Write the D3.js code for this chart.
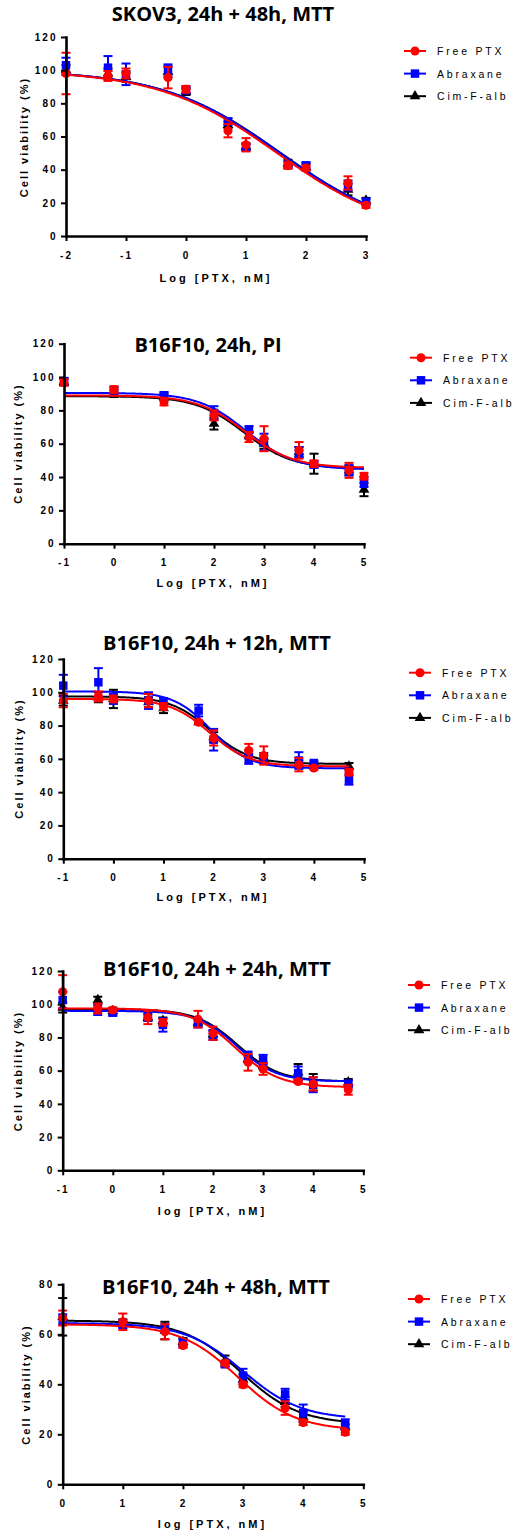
<!DOCTYPE html>
<html>
<head>
<meta charset="utf-8">
<script src="https://cdn.jsdelivr.net/npm/d3@7"></script>
<style>
  body { margin: 0; background: #fff; }
  svg { display: block; }
</style>
</head>
<body>
<div id="chart"></div>
<script>
"use strict";

// ---- data (x = log dose, y = cell viability %, err = SD) ----

const seriesNames = ["Free PTX", "Abraxane", "Cim-F-alb"];

// SKOV3, 24h + 48h, MTT
const skovDose = [-2, -1.3, -1, -0.3, 0, 0.7, 1, 1.7, 2, 2.7, 3];
const skovFree = [98, 96.5, 98, 95.5, 88.5, 63.5, 55, 42.5, 41, 32, 18.5];
const skovFreeErr = [12.5, 3, 3, 6.5, 2, 4, 4, 2, 1.5, 4, 1.5];
const skovAbrax = [103, 101.5, 97.5, 100.5, 88, 69, 53.5, 43, 42.5, 30.5, 20.5];
const skovAbraxErr = [4.5, 7, 6.5, 3, 2, 2, 2, 2, 2, 3, 2];
const skovCim = [100, 98, 96, 99, 87, 67, 54, 44, 41.5, 28, 21.5];
const skovCimErr = [3, 3, 3, 3, 2, 2, 2, 2, 2, 3.5, 1.5];

// B16F10, 24h, PI
const pi24Dose = [-1, 0, 1, 2, 2.7, 3, 3.7, 4, 4.7, 5];
const pi24Free = [96.8, 92.5, 85, 77, 64, 63, 56, 48, 44, 40.5];
const pi24FreeErr = [2, 2, 2, 3, 3, 7.5, 5, 2, 4.5, 2];
const pi24Abrax = [97.5, 92, 89, 78.5, 68.5, 61, 55, 47.5, 44, 37];
const pi24AbraxErr = [2, 2, 2, 4, 2, 5, 3, 2, 3, 3];
const pi24Cim = [97, 90, 88, 72, 65, 60, 55, 48, 44, 32.5];
const pi24CimErr = [2, 2, 2, 3.5, 2, 3, 3, 6, 3, 4];

// B16F10, 24h + 12h, MTT
const mtt12Dose = [-1, -0.3, 0, 0.7, 1, 1.7, 2, 2.7, 3, 3.7, 4, 4.7];
const mtt12Free = [95, 97.5, 96, 95, 91.5, 82, 72.5, 65, 62, 56.5, 54.5, 52];
const mtt12FreeErr = [4, 3, 2, 4, 2, 1, 4.5, 4, 5.5, 4, 1, 2];
const mtt12Abrax = [104, 106, 96, 95, 94.5, 89, 71.5, 60, 60.5, 59, 57.5, 47.5];
const mtt12AbraxErr = [6.5, 8.5, 3, 5, 2, 3.5, 6.5, 3, 3, 5, 1, 3];
const mtt12Cim = [95, 97, 96, 94, 90.5, 82, 73, 63, 60, 57, 56, 55.5];
const mtt12CimErr = [3, 3, 5.5, 3, 3, 1, 3, 2, 2, 2, 1, 2];

// B16F10, 24h + 24h, MTT
const mtt24Dose = [-1, -0.3, 0, 0.7, 1, 1.7, 2, 2.7, 3, 3.7, 4, 4.7];
const mtt24Free = [107.5, 97.5, 96.5, 92, 89, 91, 82.5, 65, 61, 53.5, 52, 48.5];
const mtt24FreeErr = [10, 3, 1, 4, 2, 5, 4, 5, 3.5, 1, 4, 3];
const mtt24Abrax = [102.5, 96.5, 95, 93, 87.5, 88.5, 81.5, 68.5, 66.5, 58.5, 51.5, 52];
const mtt24AbraxErr = [5, 3, 2, 3, 4, 2.5, 3, 3, 3, 4, 4.5, 2];
const mtt24Cim = [98, 102.5, 96, 92, 90, 89, 82, 67, 63, 59, 53, 53];
const mtt24CimErr = [3, 2, 2, 2, 2, 2, 2, 2, 2, 5, 5, 2];

// B16F10, 24h + 48h, MTT
const mtt48Dose = [0, 1, 1.7, 2, 2.7, 3, 3.7, 4, 4.7];
const mtt48Free = [66.5, 65, 61, 55.5, 48.5, 39.8, 30.5, 24.7, 20.8];
const mtt48FreeErr = [3, 3.3, 3, 1, 1, 1, 2.7, 1, 1];
const mtt48Abrax = [66, 64, 62.5, 56.5, 48, 43.5, 36, 28.5, 24];
const mtt48AbraxErr = [2, 1.5, 1.5, 1.5, 1, 2.7, 2.2, 3.4, 2];
const mtt48Cim = [67, 64.5, 61.5, 57, 49.5, 42, 33, 27, 23];
const mtt48CimErr = [7.5, 1.5, 3.5, 1.5, 2, 2, 2, 2, 1];

// dose-response fits (top, bottom, logIC50, hill slope), estimated from the drawn curves
const skovFit = [[100, 0, 1.52, 0.44], [100, 0, 1.57, 0.44], [100, 0, 1.58, 0.44]];
const pi24Fit = [[89, 45.5, 2.62, 0.9], [90.5, 44.5, 2.65, 0.9], [88.5, 45, 2.6, 0.9]];
const mtt12Fit = [[96, 55.5, 1.92, 1.1], [100.5, 54.3, 1.95, 1.15], [97.5, 57, 1.93, 1.1]];
const mtt24Fit = [[97.5, 50, 2.45, 1.0], [96, 53.5, 2.48, 1.1], [97, 53.5, 2.5, 1.05]];
const mtt48Fit = [[64, 21.5, 2.92, 0.9], [64.5, 26, 3.0, 0.9], [65.5, 24, 2.97, 0.9]];

const titles = [
    "SKOV3, 24h + 48h, MTT",
    "B16F10, 24h, PI",
    "B16F10, 24h + 12h, MTT",
    "B16F10, 24h + 24h, MTT",
    "B16F10, 24h + 48h, MTT",
];
const xTitles = ["Log [PTX, nM]", "Log [PTX, nM]", "Log [PTX, nM]", "log [PTX, nM]", "log [PTX, nM]"];
const yTitle = "Cell viability (%)";

const xTicks1 = [-2, -1, 0, 1, 2, 3];
const xTicksB = [-1, 0, 1, 2, 3, 4, 5];
const xTicks5 = [0, 1, 2, 3, 4, 5];
const yTicks120 = [0, 20, 40, 60, 80, 100, 120];
const yTicks80 = [0, 20, 40, 60, 80];

// ---- layout ----

const COLORS = ["#ff0000", "#0000ff", "#000000"];
const SYMBOLS = [d3.symbolCircle, d3.symbolSquare, d3.symbolTriangle];
const SYMBOL_SIZE = [64, 72, 50];

const layout = [
    { left: 66, right: 366, top: 37, bottom: 236, titleX: 223, titleY: 21,
      legX: 404, legY: 51, yLabX: 24, yLabY: 137, xLabX: 216, xLabY: 282 },
    { left: 64, right: 364, top: 343.7, bottom: 543.7, titleX: 208, titleY: 352,
      legX: 410, legY: 357.7, yLabX: 18, yLabY: 443.5, xLabX: 213, xLabY: 587 },
    { left: 63.3, right: 364, top: 659, bottom: 858.7, titleX: 217, titleY: 650,
      legX: 409, legY: 672.7, yLabX: 19, yLabY: 758.5, xLabX: 213, xLabY: 901 },
    { left: 62.7, right: 363.3, top: 971, bottom: 1170.3, titleX: 217, titleY: 976,
      legX: 408, legY: 985, yLabX: 18, yLabY: 1071, xLabX: 212.5, xLabY: 1215 },
    { left: 62.7, right: 363.3, top: 1284.3, bottom: 1484.3, titleX: 216, titleY: 1294,
      legX: 408, legY: 1299, yLabX: 26, yLabY: 1384.5, xLabX: 212.5, xLabY: 1528 },
];

const panels = [
    { dose: skovDose, vals: [skovFree, skovAbrax, skovCim], errs: [skovFreeErr, skovAbraxErr, skovCimErr],
      fits: skovFit, xDomain: [-2, 3], xTicks: xTicks1, yDomain: [0, 120], yTicks: yTicks120 },
    { dose: pi24Dose, vals: [pi24Free, pi24Abrax, pi24Cim], errs: [pi24FreeErr, pi24AbraxErr, pi24CimErr],
      fits: pi24Fit, xDomain: [-1, 5], xTicks: xTicksB, yDomain: [0, 120], yTicks: yTicks120 },
    { dose: mtt12Dose, vals: [mtt12Free, mtt12Abrax, mtt12Cim], errs: [mtt12FreeErr, mtt12AbraxErr, mtt12CimErr],
      fits: mtt12Fit, xDomain: [-1, 5], xTicks: xTicksB, yDomain: [0, 120], yTicks: yTicks120 },
    { dose: mtt24Dose, vals: [mtt24Free, mtt24Abrax, mtt24Cim], errs: [mtt24FreeErr, mtt24AbraxErr, mtt24CimErr],
      fits: mtt24Fit, xDomain: [-1, 5], xTicks: xTicksB, yDomain: [0, 120], yTicks: yTicks120 },
    { dose: mtt48Dose, vals: [mtt48Free, mtt48Abrax, mtt48Cim], errs: [mtt48FreeErr, mtt48AbraxErr, mtt48CimErr],
      fits: mtt48Fit, xDomain: [0, 5], xTicks: xTicks5, yDomain: [0, 80], yTicks: yTicks80 },
];

const svg = d3.select("#chart").append("svg")
    .attr("width", 513)
    .attr("height", 1532);


function four_pl(fit, x) {
    const [top, bottom, logIC50, hill] = fit;
    return bottom + (top - bottom) / (1 + Math.pow(10, (x - logIC50) * hill));
}


function draw_panel(p, L, idx) {
    const x = d3.scaleLinear().domain(p.xDomain).range([L.left, L.right]);
    const y = d3.scaleLinear().domain(p.yDomain).range([L.bottom, L.top]);
    const g = svg.append("g").attr("class", "panel");

    // title
    g.append("text")
        .attr("x", L.titleX)
        .attr("y", L.titleY)
        .attr("text-anchor", "middle")
        .style("font-family", "'Open Sans', sans-serif")
        .style("font-weight", 700)
        .style("font-size", "20px")
        .text(titles[idx]);

    // series: Cim-F-alb first so Free PTX ends up on top
    const line = d3.line().x(d => x(d[0])).y(d => y(d[1]));
    const xEnd = d3.max(p.dose);
    for (const s of [2, 1, 0]) {
        const color = COLORS[s];
        const curve = d3.range(p.xDomain[0], xEnd + 0.001, 0.02)
            .map(v => [v, four_pl(p.fits[s], v)]);
        g.append("path")
            .datum(curve)
            .attr("fill", "none")
            .attr("stroke", color)
            .attr("stroke-width", 2)
            .attr("d", line);

        const pts = p.dose.map((d, i) => ({ x: d, v: p.vals[s][i], e: p.errs[s][i] }));
        const bars = g.append("g")
            .attr("stroke", color)
            .attr("stroke-width", 2);
        bars.selectAll(".stem").data(pts).join("line")
            .attr("x1", d => x(d.x)).attr("x2", d => x(d.x))
            .attr("y1", d => y(d.v + d.e)).attr("y2", d => y(d.v - d.e));
        bars.selectAll(".capT").data(pts).join("line")
            .attr("x1", d => x(d.x) - 4.5).attr("x2", d => x(d.x) + 4.5)
            .attr("y1", d => y(d.v + d.e)).attr("y2", d => y(d.v + d.e));
        bars.selectAll(".capB").data(pts).join("line")
            .attr("x1", d => x(d.x) - 4.5).attr("x2", d => x(d.x) + 4.5)
            .attr("y1", d => y(d.v - d.e)).attr("y2", d => y(d.v - d.e));

        g.append("g").selectAll("path").data(pts).join("path")
            .attr("transform", d => `translate(${x(d.x)},${y(d.v)})`)
            .attr("d", d3.symbol().type(SYMBOLS[s]).size(SYMBOL_SIZE[s]))
            .attr("fill", color);
    }

    // axes
    const xAxis = g.append("g")
        .attr("transform", `translate(0,${L.bottom})`)
        .call(d3.axisBottom(x).tickValues(p.xTicks).tickFormat(d => String(d))
            .tickSize(5).tickSizeOuter(0).tickPadding(10.5));
    const yAxis = g.append("g")
        .attr("transform", `translate(${L.left},0)`)
        .call(d3.axisLeft(y).tickValues(p.yTicks).tickFormat(d => String(d))
            .tickSize(5).tickSizeOuter(0).tickPadding(3.5));
    for (const ax of [xAxis, yAxis]) {
        ax.select(".domain").attr("stroke-width", 2.6).attr("stroke-linecap", "square");
        ax.selectAll(".tick line").attr("stroke-width", 2);
        ax.selectAll("text")
            .style("font-family", "'Liberation Sans', Arial, sans-serif")
            .style("font-weight", 700)
            .style("font-size", "10px")
            .style("letter-spacing", "2px")
            .attr("fill", "#000");
    }

    // axis titles
    g.append("text")
        .attr("x", L.xLabX)
        .attr("y", L.xLabY)
        .attr("text-anchor", "middle")
        .style("font-family", "'Liberation Sans', Arial, sans-serif")
        .style("font-weight", 700)
        .style("font-size", "11px")
        .style("letter-spacing", "3px")
        .text(xTitles[idx]);
    g.append("text")
        .attr("transform", `translate(${L.yLabX},${L.yLabY}) rotate(-90)`)
        .attr("text-anchor", "middle")
        .attr("dominant-baseline", "central")
        .style("font-family", "'Liberation Sans', Arial, sans-serif")
        .style("font-weight", 700)
        .style("font-size", "11px")
        .style("letter-spacing", "2px")
        .text(yTitle);

    // legend
    seriesNames.forEach((name, i) => {
        const ly = L.legY + i * 22.6;
        g.append("line")
            .attr("x1", L.legX).attr("x2", L.legX + 22)
            .attr("y1", ly).attr("y2", ly)
            .attr("stroke", COLORS[i]).attr("stroke-width", 2);
        g.append("path")
            .attr("transform", `translate(${L.legX + 11},${ly})`)
            .attr("d", d3.symbol().type(SYMBOLS[i]).size(SYMBOL_SIZE[i])())
            .attr("fill", COLORS[i]);
        g.append("text")
            .attr("x", L.legX + 33)
            .attr("y", ly)
            .attr("dominant-baseline", "central")
            .style("font-family", "'Liberation Sans', Arial, sans-serif")
            .style("font-size", "10.5px")
            .style("letter-spacing", "2.8px")
            .text(name);
    });
}

panels.forEach((p, i) => draw_panel(p, layout[i], i));
</script>
</body>
</html>
